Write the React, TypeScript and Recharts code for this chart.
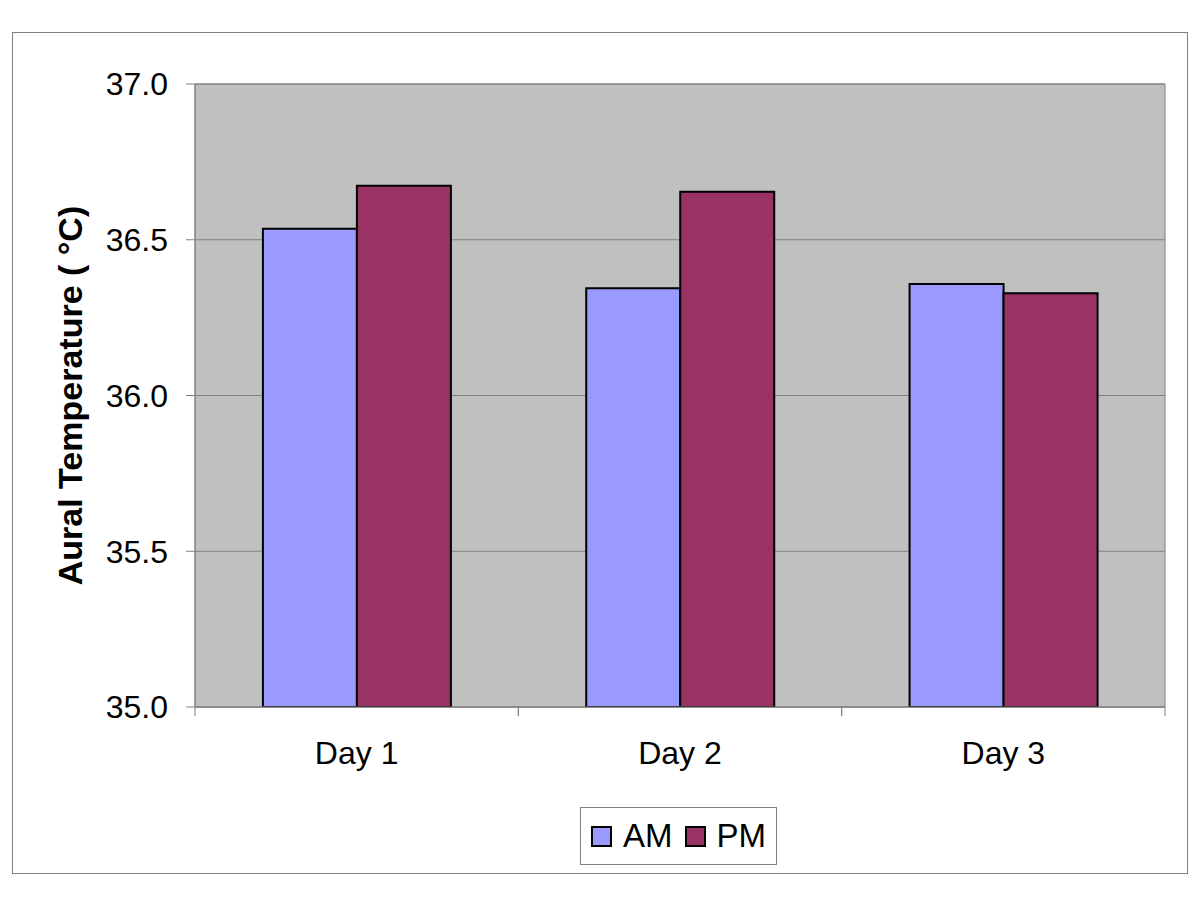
import { Bar, BarChart, CartesianGrid, ReferenceArea, XAxis, YAxis } from "recharts";

const days = ["Day 1", "Day 2", "Day 3"];
const amTemps = [36.535, 36.344, 36.358];
const pmTemps = [36.673, 36.654, 36.328];
const yTicks = [35, 35.5, 36, 36.5, 37];

const seriesNames = ["AM", "PM"];
const seriesColors = ["#9999FF", "#993366"];

const data = days.map((day, i) => ({ day, AM: amTemps[i], PM: pmTemps[i] }));

const font = "'Liberation Sans', Arial, sans-serif";

function DayTick(props: any) {
  const { x, y, payload } = props;
  const half = payload?.offset ?? 0;
  const axisY = y - 35;
  return (
    <g>
      <line x1={x - half} y1={axisY} x2={x - half} y2={axisY + 9} stroke="#808080" />
      <line x1={x + half} y1={axisY} x2={x + half} y2={axisY + 9} stroke="#808080" />
      <text x={x} y={y} dy="0.7em" textAnchor="middle" fontSize={32} fontFamily={font} fill="#000">
        {payload.value}
      </text>
    </g>
  );
}

export default function App() {
  return (
    <div style={{ position: "absolute", left: 0, top: 0, width: 1200, height: 900, background: "#fff", fontFamily: font }}>
      <div
        style={{
          position: "absolute",
          left: 12,
          top: 32,
          width: 1176,
          height: 842,
          border: "1px solid #808080",
          boxSizing: "border-box",
        }}
      />
      <div style={{ position: "absolute", left: 0, top: 0 }}>
        <BarChart
          width={1200}
          height={900}
          data={data}
          margin={{ top: 84, right: 35, bottom: 133, left: 45 }}
          barCategoryGap="21%"
          barGap={0}
        >
          <CartesianGrid vertical={false} stroke="#808080" fill="#C0C0C0" fillOpacity={1} />
          <XAxis
            dataKey="day"
            height={60}
            axisLine={{ stroke: "#808080" }}
            tickLine={false}
            tickSize={0}
            tickMargin={35}
            tick={<DayTick />}
          />
          <YAxis
            width={150}
            domain={[35, 37]}
            ticks={yTicks}
            allowDataOverflow
            tickFormatter={(v: number) => v.toFixed(1)}
            axisLine={{ stroke: "#808080" }}
            tickLine={{ stroke: "#808080" }}
            tickSize={9}
            tickMargin={18}
            tick={{ fill: "#000", fontSize: 32, fontFamily: font }}
            label={{
              value: "Aural Temperature ( °C)",
              angle: -90,
              position: "center",
              dx: -50,
              fill: "#000",
              fontSize: 34,
              fontWeight: "bold",
              fontFamily: font,
            }}
          />
          <ReferenceArea y1={35} y2={37} fill="none" stroke="#808080" ifOverflow="visible" />
          {seriesNames.map((name, i) => (
            <Bar
              key={name}
              dataKey={name}
              fill={seriesColors[i]}
              stroke="#000"
              strokeWidth={2}
              isAnimationActive={false}
            />
          ))}
        </BarChart>
      </div>
      <div
        style={{
          position: "absolute",
          left: 580,
          top: 807,
          width: 197,
          height: 58,
          border: "1px solid #808080",
          boxSizing: "border-box",
          background: "#fff",
          display: "flex",
          alignItems: "center",
          paddingLeft: 10,
          fontSize: 33,
          color: "#000",
        }}
      >
        {seriesNames.map((name, i) => (
          <div key={name} style={{ display: "flex", alignItems: "center", marginRight: i === 0 ? 12 : 0 }}>
            <span
              style={{
                display: "inline-block",
                width: 21,
                height: 21,
                background: seriesColors[i],
                border: "2px solid #000",
                boxSizing: "border-box",
                marginRight: 11,
              }}
            />
            <span>{name}</span>
          </div>
        ))}
      </div>
    </div>
  );
}
